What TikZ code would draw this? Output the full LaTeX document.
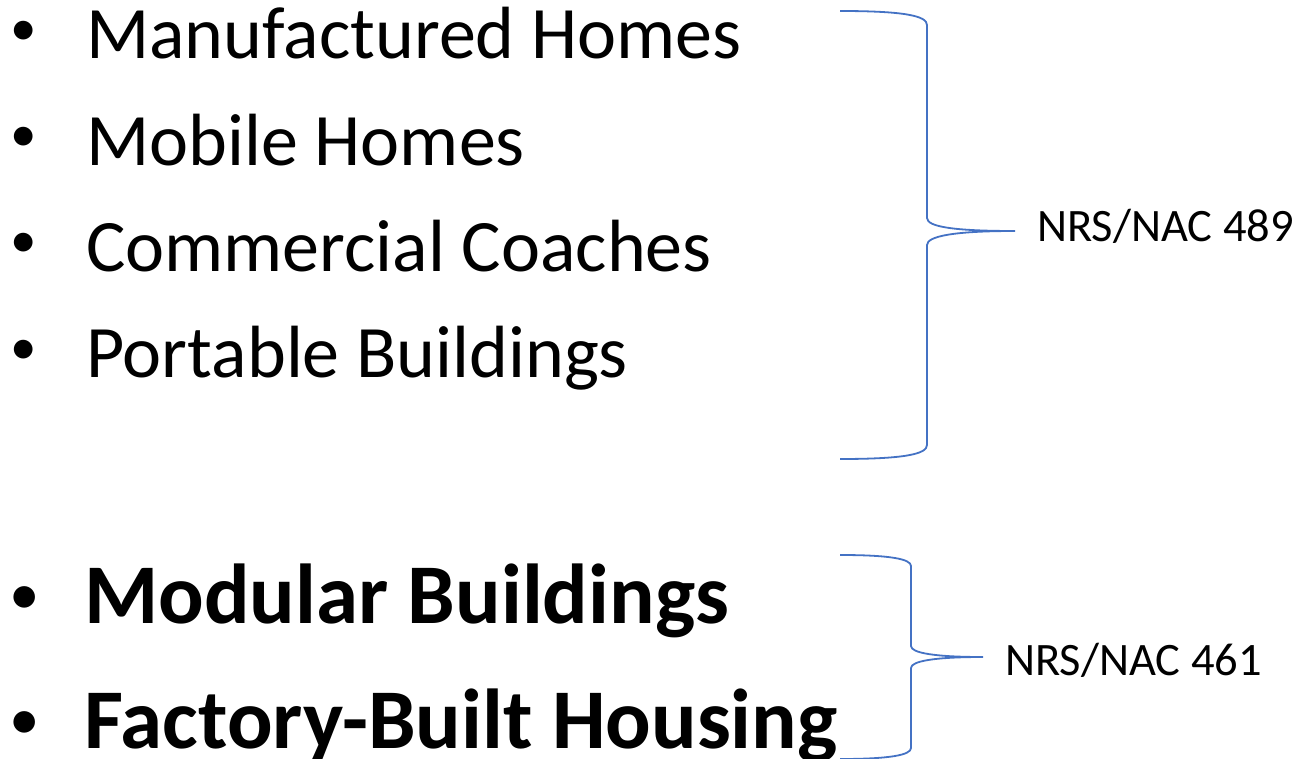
\documentclass[tikz,border=0pt]{standalone}
\usepackage{fontspec}
\setmainfont{Carlito}
\usepackage{tikz}
\usetikzlibrary{calc}
\definecolor{bracecol}{HTML}{4472C4}
\tikzset{plainitem/.style={anchor=base west,inner sep=0pt,font=\fontsize{74}{80}\selectfont},
	bolditem/.style={anchor=base west,inner sep=0pt,font=\fontsize{85}{90}\selectfont\bfseries},
	itemdot/.style={anchor=center,inner sep=0pt,font=\fontsize{#1}{#1}\selectfont},
	nacnote/.style={anchor=base west,inner sep=0pt,font=\fontsize{46.5}{50}\selectfont},
	codebrace/.style={bracecol,line width=1.8pt}}

\begin{document}
\begin{tikzpicture}[x=1pt,y=-1pt]
	\useasboundingbox (0,0) rectangle (1303,759);
	\foreach \k / \what in {1/Manufactured Homes,2/Mobile Homes,3/Commercial Coaches,4/Portable Buildings}
	   {\node[itemdot=53] (dot\k) at (24,{33+106.33*(\k-1)}) {\textbullet};
		\node[plainitem] (item\k) at (86,{59+106.33*(\k-1)}) {\what};}
	\foreach \k / \what / \y in {5/Modular Buildings/623,6/Factory-Built Housing/748}
	   {\node[itemdot=61] (dot\k) at (25,\y-22) {\textbullet};
		\node[bolditem] (item\k) at (84,\y) {\what};}
	% chapter 489 brace
	\coordinate (tip489) at (1015,231);
	\draw[codebrace] (840,11) .. controls (905,11) and (927,16) .. (927,25)
		-- (927,218) .. controls (927,227) and (955,231) .. (tip489)
		.. controls (955,231) and (927,236) .. (927,245)
		-- (927,445) .. controls (927,454) and (905,459) .. (840,459);
	\node[nacnote] (nac489) at (1037,242) {NRS/NAC 489};
	% chapter 461 brace
	\coordinate (tip461) at (983,657);
	\draw[codebrace] (840,555) .. controls (890,555) and (911,559) .. (911,566)
		-- (911,646) .. controls (911,653) and (935,657) .. (tip461)
		.. controls (935,657) and (911,661) .. (911,668)
		-- (911,748) .. controls (911,755) and (890,759) .. (840,759);
	\node[nacnote] (nac461) at (1005,675) {NRS/NAC 461};
\end{tikzpicture}
\end{document}
